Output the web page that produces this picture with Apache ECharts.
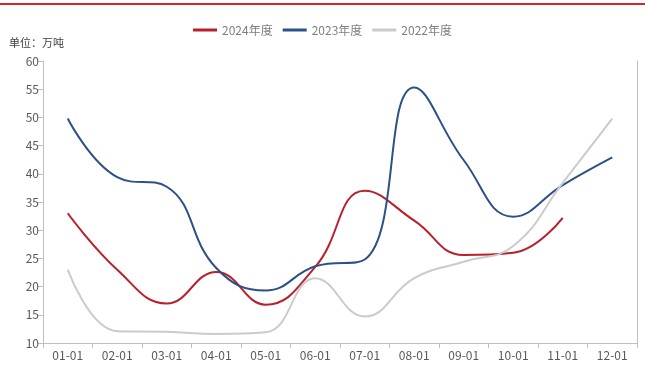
<!DOCTYPE html>
<html><head><meta charset="utf-8">
<script src="https://cdn.jsdelivr.net/npm/echarts@6/dist/echarts.min.js"></script>
<style>html,body{margin:0;padding:0;background:#fff}#c{width:645px;height:368px}</style>
</head><body><div id="c"></div>
<script>
const categories = ['01-01','02-01','03-01','04-01','05-01','06-01','07-01','08-01','09-01','10-01','11-01','12-01'];
const s2024 = [33, 23, 17, 22.6, 16.8, 23.5, 37, 31.7, 25.6, 26, 32.2, null];
const s2023 = [49.8, 39.4, 37.7, 23.3, 19.3, 23.6, 24.8, 55.3, 42.4, 32.4, 38, 42.9];
const s2022 = [23, 12.1, 12, 11.6, 11.9, 21.5, 14.7, 21.5, 24.4, 27.2, 38.4, 49.8];
const yTicks = {min: 10, max: 60, interval: 5};
const seriesNames = ['2024年度','2023年度','2022年度'];
const colors = ['#b8202c','#2c5088','#cbcbcb'];
const font = '"Noto Sans CJK SC", "Noto Sans", sans-serif';
const chart = echarts.init(document.getElementById('c'));
const mk = (name, data, color) => ({
  name, type: 'line', data, smooth: 0.45, symbol: 'none', connectNulls: false,
  lineStyle: {color, width: 2}, itemStyle: {color}
});
chart.setOption({
  animation: false,
  textStyle: {fontFamily: font},
  graphic: [
    {type: 'rect', shape: {x: 0, y: 3, width: 645, height: 2}, style: {fill: '#d7262b'}},
    {type: 'text', left: 9, top: 37, style: {text: '单位：万吨', fontSize: 11, fill: '#404040', fontFamily: font}}
  ],
  legend: {
    top: 19, left: 'center', itemWidth: 24, itemHeight: 3, itemGap: 10,
    icon: 'rect',
    textStyle: {color: '#7f7f7f', fontSize: 12, fontFamily: font},
    data: seriesNames
  },
  grid: {left: 43, right: 8, top: 61, bottom: 25},
  xAxis: {
    type: 'category', data: categories, boundaryGap: true,
    axisLine: {lineStyle: {color: '#bfbfbf'}},
    axisTick: {show: true, alignWithLabel: false, lineStyle: {color: '#bfbfbf'}},
    axisLabel: {color: '#595959', fontSize: 12, margin: 6, fontFamily: font}
  },
  yAxis: [{
    type: 'value', min: yTicks.min, max: yTicks.max, interval: yTicks.interval,
    splitLine: {show: false},
    axisLine: {show: true, lineStyle: {color: '#bfbfbf'}},
    axisTick: {show: true, lineStyle: {color: '#bfbfbf'}},
    axisLabel: {color: '#595959', fontSize: 12, margin: 4, fontFamily: font}
  }, {
    type: 'value', min: yTicks.min, max: yTicks.max, interval: yTicks.interval, position: 'right',
    splitLine: {show: false},
    axisLine: {show: true, lineStyle: {color: '#bfbfbf'}},
    axisTick: {show: false}, axisLabel: {show: false}
  }],
  series: [
    mk(seriesNames[0], s2024, colors[0]),
    mk(seriesNames[1], s2023, colors[1]),
    mk(seriesNames[2], s2022, colors[2])
  ]
});
</script></body></html>
